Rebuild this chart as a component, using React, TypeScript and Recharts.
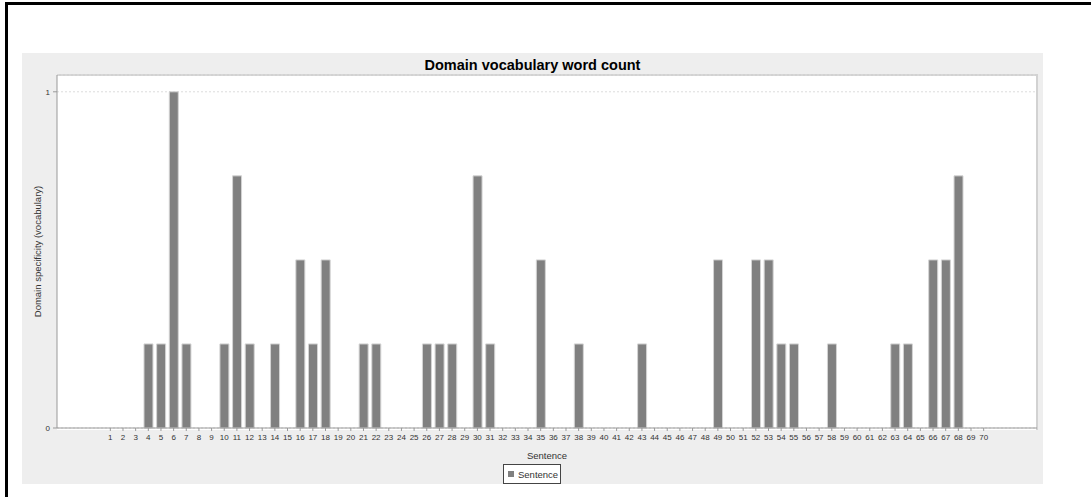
import { BarChart, Bar, XAxis, YAxis, CartesianGrid } from 'recharts';

// sentence numbers 1..70
const sentences = [
  '1', '2', '3', '4', '5', '6', '7', '8', '9', '10',
  '11', '12', '13', '14', '15', '16', '17', '18', '19', '20',
  '21', '22', '23', '24', '25', '26', '27', '28', '29', '30',
  '31', '32', '33', '34', '35', '36', '37', '38', '39', '40',
  '41', '42', '43', '44', '45', '46', '47', '48', '49', '50',
  '51', '52', '53', '54', '55', '56', '57', '58', '59', '60',
  '61', '62', '63', '64', '65', '66', '67', '68', '69', '70',
];

const specificity = [
  0, 0, 0, 0.25, 0.25, 1, 0.25, 0, 0, 0.25,
  0.75, 0.25, 0, 0.25, 0, 0.5, 0.25, 0.5, 0, 0,
  0.25, 0.25, 0, 0, 0, 0.25, 0.25, 0.25, 0, 0.75,
  0.25, 0, 0, 0, 0.5, 0, 0, 0.25, 0, 0,
  0, 0, 0.25, 0, 0, 0, 0, 0, 0.5, 0,
  0, 0.5, 0.5, 0.25, 0.25, 0, 0, 0.25, 0, 0,
  0, 0, 0.25, 0.25, 0, 0.5, 0.5, 0.75, 0, 0,
];

const yTicks = [0, 1];

const FONT = '"Liberation Sans", Arial, sans-serif';

export default function App() {
  const data = sentences.map((s, i) => ({ sentence: s, value: specificity[i] }));

  return (
    <div style={{ position: 'absolute', left: 0, top: 0, width: 1091, height: 497, overflow: 'hidden', background: '#fff', fontFamily: FONT }}>
      {/* outer frame */}
      <div style={{ position: 'absolute', left: 5, top: 2, width: 1120, height: 540, borderLeft: '3px solid #000', borderTop: '3px solid #000' }} />

      {/* grey chart panel */}
      <div style={{ position: 'absolute', left: 22, top: 53, width: 1021, height: 431, background: '#eeeeee' }}>
        <div style={{ position: 'absolute', left: 0, width: 1021, top: 4, textAlign: 'center', fontWeight: 700, fontSize: 14.5, color: '#000' }}>
          Domain vocabulary word count
        </div>

        {/* plot background */}
        <div style={{ position: 'absolute', left: 35, top: 21, width: 979, height: 354, background: '#fff', borderTop: '2px solid #d2d2d2', borderRight: '2px solid #d2d2d2' }} />

        <div style={{ position: 'absolute', left: 0, top: 0 }}>
          <BarChart width={1021} height={431} data={data} margin={{ top: 22, right: 6, left: 0, bottom: 0 }}>
            <CartesianGrid vertical={false} strokeDasharray="2 2" stroke="#dcdcdc" />
            <XAxis
              dataKey="sentence"
              interval={0}
              height={56}
              padding={{ left: 47, right: 47 }}
              tick={{ fontSize: 8, fill: '#333', fontFamily: FONT }}
              tickSize={3}
              tickMargin={3}
              stroke="#999"
              label={{
                content: ({ viewBox }: any) => (
                  <text x={viewBox.x + viewBox.width / 2} y={viewBox.y + 31} textAnchor="middle" fontSize={9.5} fill="#333" fontFamily={FONT}>
                    Sentence
                  </text>
                ),
              }}
            />
            <YAxis
              domain={[0, 1.05]}
              ticks={yTicks}
              width={35}
              tick={{ fontSize: 8, fill: '#333', fontFamily: FONT }}
              tickSize={4}
              tickMargin={3}
              stroke="#999"
              label={{
                content: ({ viewBox }: any) => {
                  const cx = 15;
                  const cy = viewBox.y + viewBox.height / 2;
                  return (
                    <text x={cx} y={cy} transform={`rotate(-90 ${cx} ${cy})`} textAnchor="middle" dominantBaseline="central" fontSize={9.5} fill="#333" fontFamily={FONT}>
                      Domain specificity (vocabulary)
                    </text>
                  );
                },
              }}
            />
            <Bar dataKey="value" name="Sentence" fill="#808080" stroke="#d4d4d4" strokeWidth={1} barSize={9} isAnimationActive={false} />
          </BarChart>
        </div>
      </div>

      {/* legend */}
      <div style={{ position: 'absolute', left: 503, top: 464, width: 56, height: 18, background: '#fff', border: '1px solid #444', display: 'flex', alignItems: 'center', fontSize: 9.5, color: '#333' }}>
        <span style={{ display: 'inline-block', width: 6, height: 6, background: '#808080', marginLeft: 4, marginRight: 4 }} />
        Sentence
      </div>
    </div>
  );
}
